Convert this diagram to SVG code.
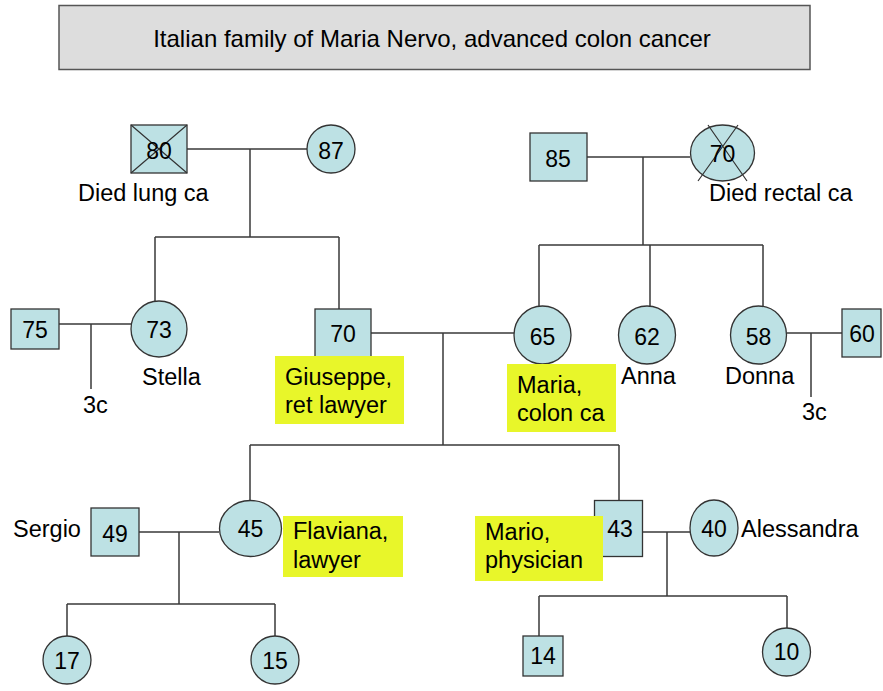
<svg xmlns="http://www.w3.org/2000/svg" width="883" height="691" viewBox="0 0 883 691">
<style>
.bg{fill:#ffffff}
.title{fill:#dddddd;stroke:#555555;stroke-width:1.5}
.n{fill:#bde1e4;stroke:#333333;stroke-width:1.3}
.x{stroke:#333333;stroke-width:1.2;fill:none}
.c{stroke:#3a3a3a;stroke-width:1.5;fill:none}
.hl{fill:#e8f62a}
text{font-family:"Liberation Sans",Arial,sans-serif;fill:#000000}
.num{font-size:23px;text-anchor:middle}
.lbl{font-size:23.5px}
.tt{font-size:24px;text-anchor:middle}
</style>
<rect class="bg" x="0" y="0" width="883" height="691"/>
<g id="title">
<rect class="title" x="59" y="5.5" width="751" height="64"/>
<text class="tt" x="432" y="47">Italian family of Maria Nervo, advanced colon cancer</text>
</g>
<g id="connectors">
<path class="c" d="M187 149H307M250 149V237M155 237H339M155 237V301M339 237V309"/>
<path class="c" d="M587 157H690M643 157V245M539 245H763M539 245V306M650 245V306M763 245V306"/>
<path class="c" d="M59 324H131M91 324V389"/>
<path class="c" d="M371 333H514M443 333V445M250 445H619M250 445V501M619 445V500.5"/>
<path class="c" d="M787 333H842M811 333V397"/>
<path class="c" d="M139 532H219M179 532V604M67 604H275M67 604V636M275 604V636"/>
<path class="c" d="M642.5 532H690M667 532V596M539 596H787M539 596V636M787 596V628"/>
</g>
<g id="n80">
<rect class="n" x="131" y="125" width="56" height="48"/>
<path class="x" d="M131 125L187 173M187 125L131 173"/>
<text class="num" x="159" y="159">80</text>
<text class="lbl" x="78" y="201">Died lung ca</text>
</g>
<g id="n87">
<circle class="n" cx="331" cy="149" r="24"/>
<text class="num" x="331" y="159">87</text>
</g>
<g id="n85">
<rect class="n" x="530" y="133" width="57" height="48"/>
<text class="num" x="558" y="167">85</text>
</g>
<g id="n70top">
<ellipse class="n" cx="722.5" cy="153" rx="32" ry="28"/>
<path class="x" d="M708 125L747 181M738 125L698 181"/>
<text class="num" x="722.5" y="162">70</text>
<text class="lbl" x="709" y="201">Died rectal ca</text>
</g>
<g id="n75">
<rect class="n" x="11" y="309" width="48" height="40"/>
<text class="num" x="35" y="338">75</text>
</g>
<g id="n73">
<circle class="n" cx="159" cy="329" r="28"/>
<text class="num" x="159" y="338">73</text>
<text class="lbl" x="142" y="385">Stella</text>
</g>
<g id="c3left">
<text class="lbl" x="83" y="413">3c</text>
</g>
<g id="n70">
<rect class="n" x="315" y="309" width="56" height="48"/>
<text class="num" x="343" y="342">70</text>
<rect class="hl" x="275" y="356" width="129" height="68"/>
<text class="lbl" x="285" y="385">Giuseppe,</text>
<text class="lbl" x="285" y="413">ret lawyer</text>
</g>
<g id="n65">
<ellipse class="n" cx="542.5" cy="335" rx="28.5" ry="29"/>
<text class="num" x="542.5" y="345">65</text>
<rect class="hl" x="507" y="364" width="109" height="68"/>
<text class="lbl" x="517" y="393">Maria,</text>
<text class="lbl" x="517" y="421">colon ca</text>
</g>
<g id="n62">
<ellipse class="n" cx="647" cy="335" rx="28.5" ry="29"/>
<text class="num" x="647" y="345">62</text>
<text class="lbl" x="621" y="384">Anna</text>
</g>
<g id="n58">
<ellipse class="n" cx="758.5" cy="335" rx="28" ry="29"/>
<text class="num" x="758.5" y="345">58</text>
<text class="lbl" x="725" y="384">Donna</text>
</g>
<g id="n60">
<rect class="n" x="842" y="309" width="39" height="48"/>
<text class="num" x="862" y="342">60</text>
</g>
<g id="c3right">
<text class="lbl" x="802" y="420">3c</text>
</g>
<g id="n49">
<rect class="n" x="91" y="508" width="48" height="48"/>
<text class="num" x="115" y="542">49</text>
<text class="lbl" x="13" y="537">Sergio</text>
</g>
<g id="n45">
<ellipse class="n" cx="250.5" cy="528.5" rx="31" ry="28"/>
<text class="num" x="250.5" y="537">45</text>
<rect class="hl" x="283" y="516" width="120" height="61"/>
<text class="lbl" x="293" y="539">Flaviana,</text>
<text class="lbl" x="293" y="568">lawyer</text>
</g>
<g id="n43">
<rect class="n" x="594.5" y="500.5" width="48" height="56"/>
<text class="num" x="620" y="537">43</text>
<rect class="hl" x="475" y="516" width="128" height="65"/>
<text class="lbl" x="485" y="540">Mario,</text>
<text class="lbl" x="485" y="568">physician</text>
</g>
<g id="n40">
<ellipse class="n" cx="714" cy="528" rx="24" ry="28"/>
<text class="num" x="714" y="537">40</text>
<text class="lbl" x="741" y="537">Alessandra</text>
</g>
<g id="n17">
<circle class="n" cx="67" cy="660" r="24"/>
<text class="num" x="67" y="669">17</text>
</g>
<g id="n15">
<circle class="n" cx="275" cy="660" r="24"/>
<text class="num" x="275" y="669">15</text>
</g>
<g id="n14">
<rect class="n" x="523" y="636" width="40" height="40"/>
<text class="num" x="543" y="664">14</text>
</g>
<g id="n10">
<circle class="n" cx="786.5" cy="652" r="24"/>
<text class="num" x="786.5" y="660">10</text>
</g>
</svg>
